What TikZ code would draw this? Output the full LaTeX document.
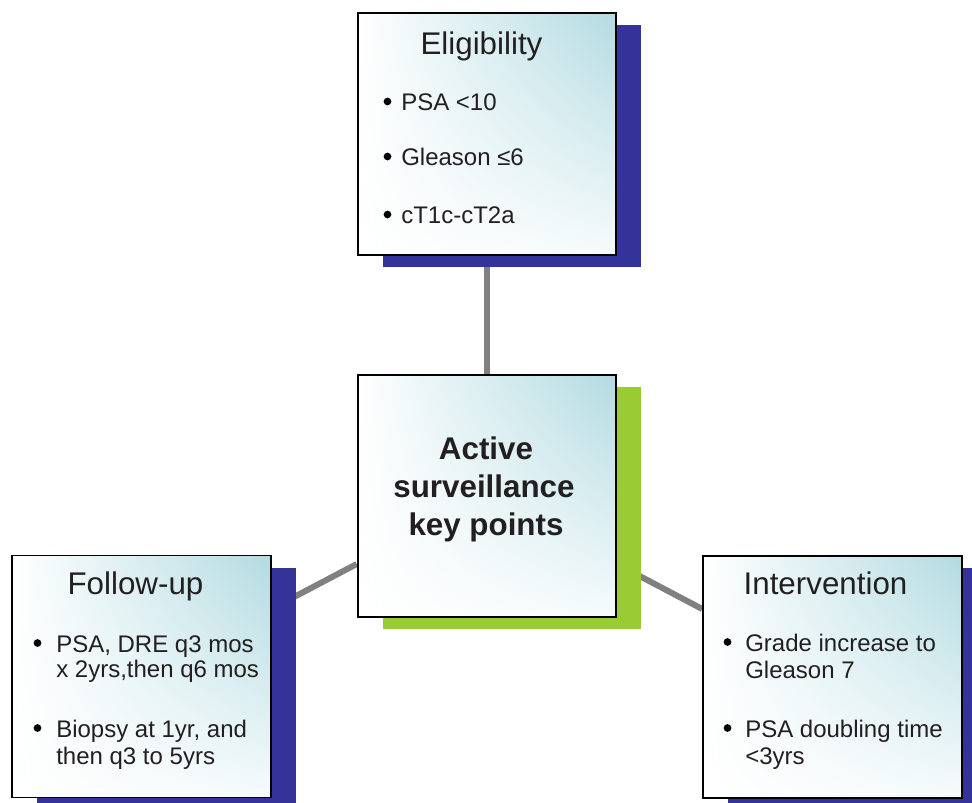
\documentclass[tikz,border=0pt]{standalone}
\usepackage{fontspec}
\setmainfont{Liberation Sans}
\usetikzlibrary{shadings,backgrounds}
\definecolor{navyshadow}{RGB}{51,51,153}
\definecolor{limeshadow}{RGB}{153,204,51}
\definecolor{tealtint}{RGB}{178,219,225}
\definecolor{connector}{RGB}{128,128,128}
\definecolor{ink}{RGB}{35,31,32}
\begin{document}
\begin{tikzpicture}[x=0.75pt,y=-0.75pt,
  box/.style={rectangle, draw=black, line width=1.4pt, minimum width=194pt, minimum height=181.5pt, inner sep=0pt,
    shade, shading=bilinear interpolation, lower left=white, upper left=white, upper right=tealtint, lower right=tealtint!12},
  blueshadow/.style={preaction={fill=navyshadow, transform canvas={shift={(25,12)}}}},
  greenshadow/.style={preaction={fill=limeshadow, transform canvas={shift={(25,12)}}}},
  link/.style={draw=connector, line width=4.5pt},
  ttl/.style={anchor=base, inner sep=0pt, text=ink, font=\fontsize{23.5pt}{28pt}\selectfont},
  ctr/.style={anchor=base, inner sep=0pt, text=ink, font=\bfseries\fontsize{23.5pt}{28pt}\selectfont},
  bul/.style={circle, fill=black, inner sep=0pt, minimum size=5.8pt},
  itm/.style={anchor=base west, inner sep=0pt, text=ink, font=\fontsize{18pt}{20pt}\selectfont}]
\useasboundingbox (0,0) rectangle (972,803);
\clip (0,0) rectangle (972,803);

% boxes
\node[box, blueshadow] (elig) at (487,134) {};
\node[box, greenshadow] (core) at (487,496) {};
\node[box, blueshadow] (follow) at (141.5,676.5) {};
\node[box, blueshadow] (interv) at (832.5,677) {};

% connectors
\begin{scope}[on background layer]
  \draw[link] (elig) -- (core);
  \draw[link] (core) -- (follow);
  \draw[link] (core) -- (interv);
\end{scope}

% Eligibility
\node[ttl] (eligT) at (481.5,55) {Eligibility};
\node[bul] (eB1) at (387.5,101.5) {};
\node[itm] (eI1) at (401,110) {PSA <10};
\node[bul] (eB2) at (387.5,156.5) {};
\node[itm] (eI2) at (401,165) {Gleason ≤6};
\node[bul] (eB3) at (387.5,214.5) {};
\node[itm] (eI3) at (401,223) {cT1c-cT2a};

% Centre
\node[ctr] (c1) at (486,459) {Active};
\node[ctr] (c2) at (484,497) {surveillance};
\node[ctr] (c3) at (486,535) {key points};

% Follow-up
\node[ttl] (fT) at (135.5,594) {Follow-up};
\node[bul] (fB1) at (37.5,643) {};
\node[itm] (fI1a) at (56,652) {PSA, DRE q3 mos};
\node[itm] (fI1b) at (56,677) {x 2yrs,then q6 mos};
\node[bul] (fB2) at (37.5,728) {};
\node[itm] (fI2a) at (56,737) {Biopsy at 1yr, and};
\node[itm] (fI2b) at (56,764) {then q3 to 5yrs};

% Intervention
\node[ttl] (iT) at (825.5,594) {Intervention};
\node[bul] (iB1) at (727.5,642) {};
\node[itm] (iI1a) at (745,651) {Grade increase to};
\node[itm] (iI1b) at (745,678) {Gleason 7};
\node[bul] (iB2) at (727.5,728) {};
\node[itm] (iI2a) at (745,737) {PSA doubling time};
\node[itm] (iI2b) at (745,764) {<3yrs};
\end{tikzpicture}
\end{document}
